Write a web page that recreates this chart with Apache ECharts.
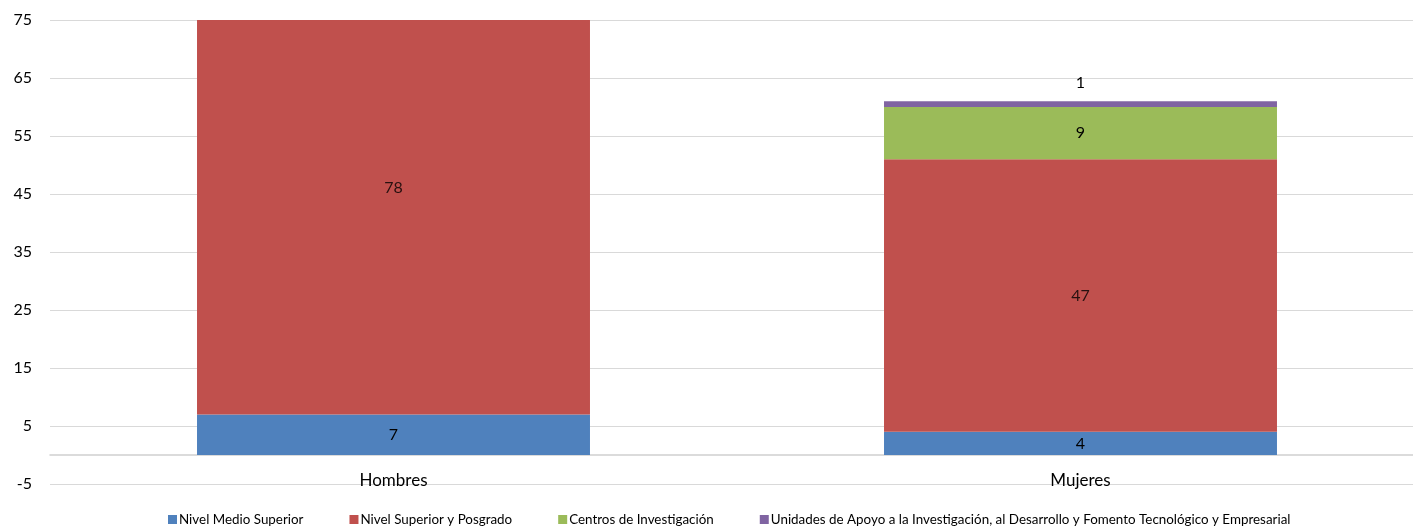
<!DOCTYPE html>
<html>
<head>
<meta charset="utf-8">
<script src="https://cdn.jsdelivr.net/npm/echarts@6/dist/echarts.min.js"></script>
<style>html,body{margin:0;padding:0;background:#fff}#c{width:1413px;height:529px}</style>
</head>
<body>
<div id="c"></div>
<script>
const categories = ['Hombres', 'Mujeres'];
const nivelMedioSuperior = [7, 4];
const nivelSuperiorPosgrado = [78, 47];
const centrosInvestigacion = [null, 9];
const unidadesApoyo = [null, 1];
const seriesNames = ['Nivel Medio Superior', 'Nivel Superior y Posgrado', 'Centros de Investigación', 'Unidades de Apoyo a la Investigación, al Desarrollo y Fomento Tecnológico y Empresarial'];
const yTicks = [-5, 5, 15, 25, 35, 45, 55, 65, 75];

const FONT = 'Lato';
const colors = ['#4F81BD', '#C0504D', '#9BBB59', '#8064A2'];
const chart = echarts.init(document.getElementById('c'), null, {renderer: 'canvas'});
const lbl = {show: true, position: 'inside', color: '#000', fontFamily: FONT, fontSize: 16};

// label points for the (clipped) red segment: centred on the full segment
const redLabelPts = categories.map((c, i) => [c, nivelMedioSuperior[i] + nivelSuperiorPosgrado[i] / 2, nivelSuperiorPosgrado[i]]);

chart.setOption({
  animation: false,
  color: colors,
  grid: {left: 50, top: 20, bottom: 45, width: 1374, containLabel: false, outerBoundsMode: 'none'},
  legend: {
    top: 508, left: 163, itemWidth: 9, itemHeight: 9, itemGap: 46, icon: 'rect',
    textStyle: {fontFamily: FONT, fontSize: 13.4, color: '#000', padding: [0, 0, 0, -3]},
    data: seriesNames
  },
  xAxis: {
    type: 'category', data: categories,
    axisLine: {onZero: true, lineStyle: {color: '#D0D0D0', width: 1.5}},
    axisTick: {show: false},
    axisLabel: {fontFamily: FONT, fontSize: 17, color: '#000', margin: -12}
  },
  yAxis: {
    type: 'value', min: -5, max: 75, interval: 10,
    axisLine: {show: false}, axisTick: {show: false},
    splitLine: {lineStyle: {color: '#D9D9D9', width: 1}},
    axisLabel: {fontFamily: FONT, fontSize: 16, color: '#000', margin: 18, formatter: v => yTicks.includes(v) ? String(v) : ''}
  },
  series: [
    {name: seriesNames[0], type: 'bar', stack: 't', barWidth: '57.2%', data: nivelMedioSuperior, label: lbl, itemStyle: {color: colors[0]}},
    {name: seriesNames[1], type: 'bar', stack: 't', data: nivelSuperiorPosgrado, label: {show: false}, itemStyle: {color: colors[1]}},
    {name: seriesNames[2], type: 'bar', stack: 't', data: centrosInvestigacion, label: lbl, itemStyle: {color: colors[2]}},
    {name: seriesNames[3], type: 'bar', stack: 't', data: unidadesApoyo, label: Object.assign({}, lbl, {position: 'top', distance: 10}), itemStyle: {color: colors[3]}},
    {type: 'scatter', symbolSize: 0, silent: true, data: redLabelPts, encode: {x: 0, y: 1},
     label: {show: true, position: 'inside', color: '#000', fontFamily: FONT, fontSize: 16, formatter: p => String(p.value[2])}, z: 5}
  ]
});
</script>
</body>
</html>
